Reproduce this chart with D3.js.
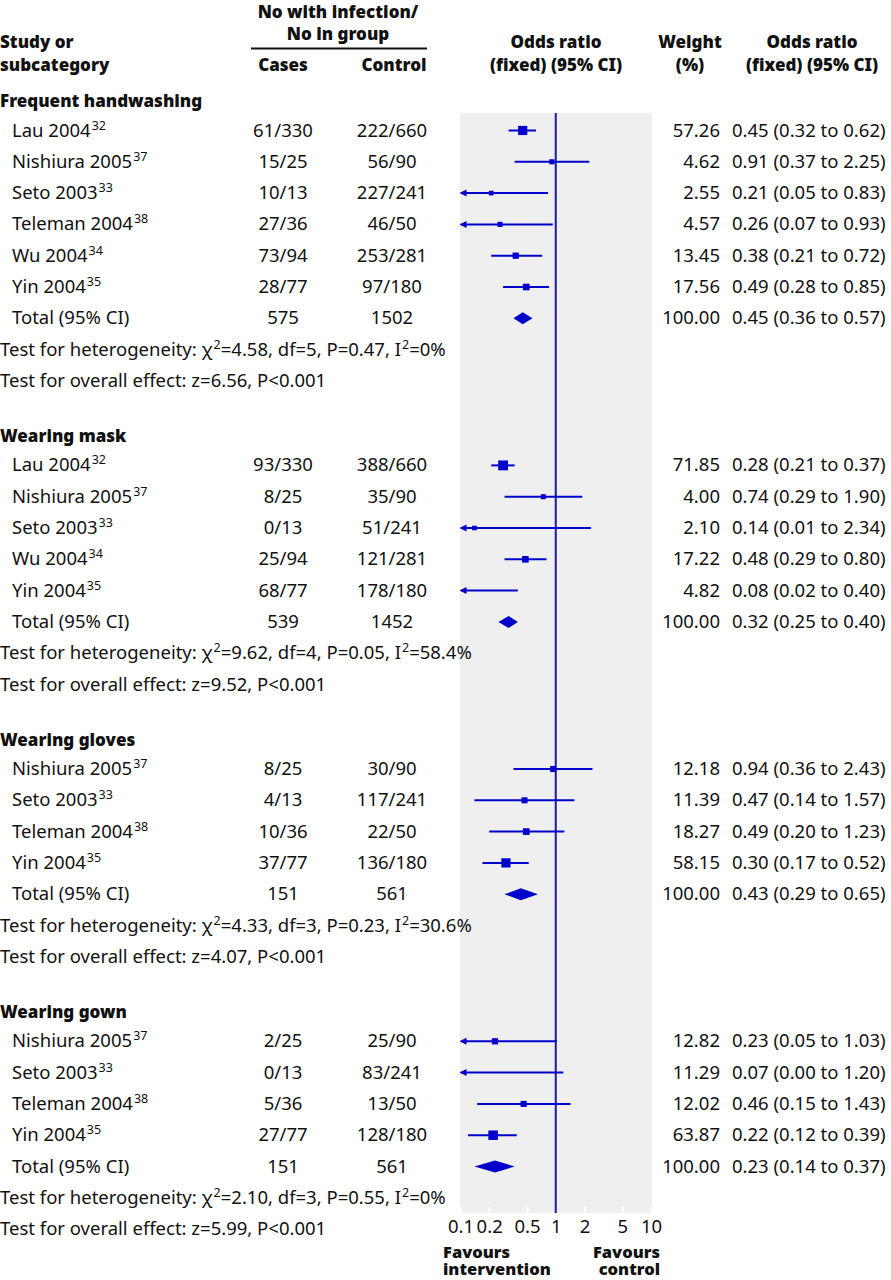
<!DOCTYPE html>
<html><head><meta charset="utf-8">
<script src="https://cdn.jsdelivr.net/npm/d3@7/dist/d3.min.js"></script>
<style>
body{margin:0;background:#fff;}
svg{display:block;}
text{font-family:"Noto Sans",sans-serif;fill:#111;}
.b{font-weight:900;}
</style></head>
<body>
<svg id="c" width="891" height="1280"></svg>
<script>
// ---------- DATA ----------
const groupNames = ["Frequent handwashing","Wearing mask","Wearing gloves","Wearing gown"];
const studyGroup = [0,0,0,0,0,0, 1,1,1,1,1, 2,2,2,2, 3,3,3,3];
const studyNames = ["Lau 2004","Nishiura 2005","Seto 2003","Teleman 2004","Wu 2004","Yin 2004",
  "Lau 2004","Nishiura 2005","Seto 2003","Wu 2004","Yin 2004",
  "Nishiura 2005","Seto 2003","Teleman 2004","Yin 2004",
  "Nishiura 2005","Seto 2003","Teleman 2004","Yin 2004"];
const studyRefs = ["32","37","33","38","34","35", "32","37","33","34","35", "37","33","38","35", "37","33","38","35"];
const casesText = ["61/330","15/25","10/13","27/36","73/94","28/77",
  "93/330","8/25","0/13","25/94","68/77",
  "8/25","4/13","10/36","37/77",
  "2/25","0/13","5/36","27/77"];
const controlText = ["222/660","56/90","227/241","46/50","253/281","97/180",
  "388/660","35/90","51/241","121/281","178/180",
  "30/90","117/241","22/50","136/180",
  "25/90","83/241","13/50","128/180"];
const weights = [57.26,4.62,2.55,4.57,13.45,17.56, 71.85,4.00,2.10,17.22,4.82, 12.18,11.39,18.27,58.15, 12.82,11.29,12.02,63.87];
const oddsRatios = [0.45,0.91,0.21,0.26,0.38,0.49, 0.28,0.74,0.14,0.48,0.08, 0.94,0.47,0.49,0.30, 0.23,0.07,0.46,0.22];
const ciLower = [0.32,0.37,0.05,0.07,0.21,0.28, 0.21,0.29,0.01,0.29,0.02, 0.36,0.14,0.20,0.17, 0.05,0.00,0.15,0.12];
const ciUpper = [0.62,2.25,0.83,0.93,0.72,0.85, 0.37,1.90,2.34,0.80,0.40, 2.43,1.57,1.23,0.52, 1.03,1.20,1.43,0.39];

const totalCases = [575,539,151,151];
const totalControls = [1502,1452,561,561];
const totalOR = [0.45,0.32,0.43,0.23];
const totalLower = [0.36,0.25,0.29,0.14];
const totalUpper = [0.57,0.40,0.65,0.37];
const hetChi2 = ["4.58","9.62","4.33","2.10"];
const hetDf = [5,4,3,3];
const hetP = ["0.47","0.05","0.23","0.55"];
const hetI2 = ["0%","58.4%","30.6%","0%"];
const overallZ = ["6.56","9.52","4.07","5.99"];
const overallP = ["<0.001","<0.001","<0.001","<0.001"];

const tickValues = [0.1,0.2,0.5,1,2,5,10];
const tickLabels = ["0.1","0.2","0.5","1","2","5","10"];

// ---------- LAYOUT ----------
const svg = d3.select("#c");
const FS = 18.5;   // regular text
const FB = 17;     // bold headers
const blue = "#0000cc";
const x = d3.scaleLog().domain([0.1,10]).range([460.5,651]);
const panelTop = 113, panelBottom = 1213;
const pitch = 31.3, hdrGap = 29.5, grpGap = 55;

const rows = [];
let y = 101;
groupNames.forEach((g,gi)=>{
  rows.push({type:"header", gi, y});
  y += hdrGap;
  studyGroup.forEach((sg,i)=>{ if(sg===gi){ rows.push({type:"study", i, y}); y += pitch; } });
  rows.push({type:"total", gi, y}); y += pitch;
  rows.push({type:"het", gi, y}); y += pitch;
  rows.push({type:"overall", gi, y});
  y += grpGap;
});

// panel
svg.append("rect").attr("x",460).attr("y",panelTop).attr("width",192).attr("height",panelBottom-panelTop).attr("fill","#efefef");

// axis
const axis = d3.axisBottom(x).tickValues(tickValues).tickFormat((d,i)=>tickLabels[i]).tickSize(6);
const ag = svg.append("g").attr("transform",`translate(0,${panelBottom-6})`).call(axis);
ag.select(".domain").remove();
ag.selectAll(".tick line").attr("stroke","#fff").attr("stroke-width",2);
ag.selectAll(".tick text").attr("y",13).attr("dy","0.71em").attr("font-size",FS).attr("font-family","Noto Sans").attr("fill","#111");
ag.selectAll(".tick").filter(d=>d===1).select("line").remove();

// null line
svg.append("line").attr("x1",x(1)).attr("x2",x(1)).attr("y1",panelTop).attr("y2",panelBottom).attr("stroke","#1a1aa8").attr("stroke-width",2);

function txt(t,xx,yy,anchor,cls,size){
  return svg.append("text").attr("x",xx).attr("y",yy).attr("text-anchor",anchor||"start")
    .attr("font-size",size || (cls==="b"?FB:FS)).attr("class",cls||null).text(t);
}
// headers
txt("No with infection/",338,18,"middle","b");
txt("No in group",338,40,"middle","b");
svg.append("line").attr("x1",251).attr("x2",427).attr("y1",48.5).attr("y2",48.5).attr("stroke","#111").attr("stroke-width",2);
txt("Study or",0,48,"start","b");
txt("subcategory",0,71,"start","b");
txt("Cases",283,71,"middle","b");
txt("Control",394,71,"middle","b");
txt("Odds ratio",556,48,"middle","b");
txt("(fixed) (95% CI)",556,71,"middle","b");
txt("Weight",690,48,"middle","b");
txt("(%)",690,71,"middle","b");
txt("Odds ratio",812,48,"middle","b");
txt("(fixed) (95% CI)",812,71,"middle","b");

const fmt = d3.format(".2f");
function withSup(parts,xx,yy,anchor){
  const t = svg.append("text").attr("x",xx).attr("y",yy).attr("text-anchor",anchor||"start").attr("font-size",FS);
  let pending = 0;
  parts.forEach(p=>{
    if(p.sup){
      t.append("tspan").attr("dx",1).attr("dy",-7 + pending).attr("font-size",12.5).text(p.sup);
      pending = 7;
    } else {
      const s = t.append("tspan").text(p.t);
      if(pending){ s.attr("dy",pending); pending = 0; }
    }
  });
  return t;
}

const B = 6;
rows.forEach(r=>{
  const by = r.y + B;
  if(r.type==="header"){
    txt(groupNames[r.gi],0,by,"start","b");
  } else if(r.type==="study"){
    const i = r.i;
    withSup([{t:studyNames[i]},{sup:studyRefs[i]}],12,by);
    txt(casesText[i],283,by,"middle");
    txt(controlText[i],392,by,"middle");
    txt(fmt(weights[i]),720,by,"end");
    txt(`${fmt(oddsRatios[i])} (${fmt(ciLower[i])} to ${fmt(ciUpper[i])})`,732,by,"start");
    const hi = Math.min(ciUpper[i],10);
    const x0 = ciLower[i] < 0.1 ? x(0.1)+1 : x(ciLower[i]);
    svg.append("line").attr("x1",x0).attr("x2",x(hi)).attr("y1",r.y).attr("y2",r.y).attr("stroke",blue).attr("stroke-width",2);
    if(ciLower[i] < 0.1){
      const ax = x(0.1)-1;
      svg.append("path").attr("d",`M${ax},${r.y} L${ax+7},${r.y-3.5} L${ax+7},${r.y+3.5} Z`).attr("fill",blue);
    }
    if(oddsRatios[i] >= 0.1){
      const s = 3.5 + 0.75*Math.sqrt(weights[i]);
      svg.append("rect").attr("x",x(oddsRatios[i])-s/2).attr("y",r.y-s/2).attr("width",s).attr("height",s).attr("fill",blue);
    }
  } else if(r.type==="total"){
    const g = r.gi;
    txt("Total (95% CI)",12,by,"start");
    txt(String(totalCases[g]),283,by,"middle");
    txt(String(totalControls[g]),392,by,"middle");
    txt("100.00",720,by,"end");
    txt(`${fmt(totalOR[g])} (${fmt(totalLower[g])} to ${fmt(totalUpper[g])})`,732,by,"start");
    const h = 6;
    svg.append("path").attr("d",`M${x(totalLower[g])},${r.y} L${x(totalOR[g])},${r.y-h} L${x(totalUpper[g])},${r.y} L${x(totalOR[g])},${r.y+h} Z`).attr("fill",blue);
  } else if(r.type==="het"){
    const g = r.gi;
    withSup([{t:"Test for heterogeneity: \u03C7"},{sup:"2"},{t:`=${hetChi2[g]}, df=${hetDf[g]}, P=${hetP[g]}, I`},{sup:"2"},{t:`=${hetI2[g]}`}],0,by);
  } else if(r.type==="overall"){
    const g = r.gi;
    txt(`Test for overall effect: z=${overallZ[g]}, P${overallP[g]}`,0,by,"start");
  }
});

// favours
txt("Favours",443,1258,"start","b",16.5);
txt("intervention",443,1275,"start","b",16.5);
txt("Favours",660,1258,"end","b",16.5);
txt("control",660,1275,"end","b",16.5);
</script>
</body></html>
